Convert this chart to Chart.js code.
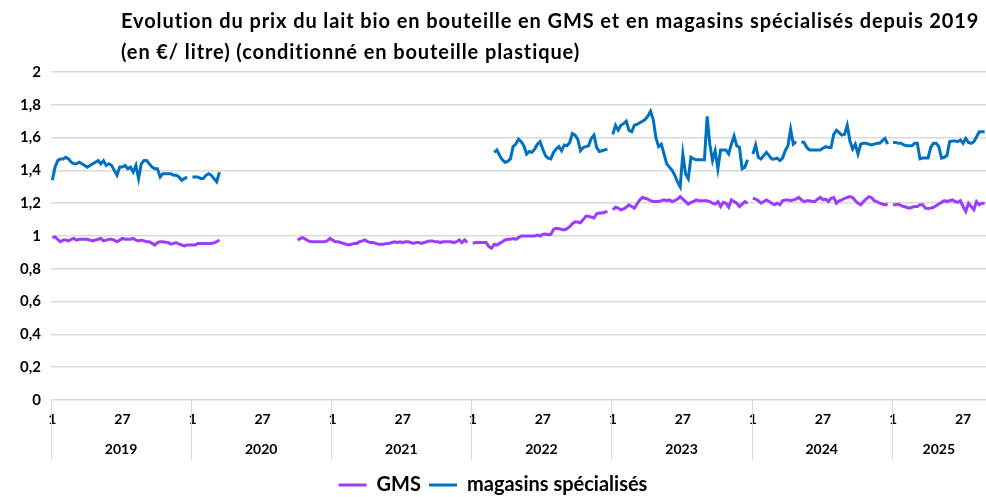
<!DOCTYPE html>
<html>
<head>
<meta charset="utf-8">
<script src="https://cdn.jsdelivr.net/npm/chart.js@4.4.0/dist/chart.umd.min.js"></script>
<style>
  html, body { margin: 0; padding: 0; background: #fff; }
  #wrap { position: relative; width: 986px; height: 497px; overflow: hidden; }
  #titre {
    position: absolute; left: 121px; top: 5px;
    font-family: Lato, "Liberation Sans", sans-serif; font-weight: bold;
    font-size: 20px; letter-spacing: 0.9px; line-height: 31px; color: #000; white-space: nowrap;
  }
</style>
</head>
<body>
<div id="wrap">
  <canvas id="chartLait" width="986" height="497"></canvas>
  <div id="titre">Evolution du prix du lait bio en bouteille en GMS et en magasins spécialisés depuis 2019<br>(en €/ litre) (conditionné en bouteille plastique)</div>
</div>
<script>
// années et semaines affichées sur l'axe
const years = ['2019', '2020', '2021', '2022', '2023', '2024', '2025'];
const weeksPerYear = [52, 52, 52, 52, 52, 52, 35];
const weekTicks = [1, 27];
const yTicks = [0, 0.2, 0.4, 0.6, 0.8, 1, 1.2, 1.4, 1.6, 1.8, 2];

const gaps = n => Array(n).fill(null);

// GMS (€/l), une valeur par semaine
const gms2019 = [0.99, 0.995, 0.98, 0.965, 0.975, 0.975, 0.97, 0.98, 0.985, 0.975, 0.98, 0.98, 0.98, 0.98, 0.975, 0.97, 0.976, 0.98, 0.985, 0.97, 0.975, 0.98, 0.98, 0.975, 0.965, 0.975, 0.985, 0.98, 0.98, 0.98, 0.985, 0.975, 0.97, 0.975, 0.97, 0.965, 0.965, 0.955, 0.945, 0.96, 0.965, 0.965, 0.962, 0.96, 0.95, 0.955, 0.96, 0.95, 0.945, 0.94, 0.945, 0.945];
const gms2020 = [0.945, 0.945, 0.955, 0.955, 0.955, 0.955, 0.955, 0.955, 0.958, 0.965, 0.976, ...gaps(28), 0.975, 0.985, 0.99, 0.98, 0.97, 0.965, 0.965, 0.965, 0.965, 0.965, 0.965, 0.97, 0.985];
const gms2021 = [0.975, 0.965, 0.965, 0.96, 0.955, 0.95, 0.945, 0.95, 0.955, 0.955, 0.965, 0.97, 0.976, 0.965, 0.96, 0.96, 0.955, 0.95, 0.95, 0.95, 0.955, 0.955, 0.96, 0.965, 0.96, 0.965, 0.96, 0.965, 0.965, 0.96, 0.955, 0.96, 0.96, 0.955, 0.96, 0.965, 0.97, 0.97, 0.965, 0.965, 0.96, 0.965, 0.965, 0.965, 0.965, 0.96, 0.965, 0.976, 0.96, 0.976, 0.96, null];
const gms2022 = [0.955, 0.96, 0.96, 0.96, 0.96, 0.96, 0.935, 0.925, 0.95, 0.945, 0.955, 0.965, 0.976, 0.98, 0.98, 0.985, 0.98, 0.99, 1.0, 1.0, 1.0, 1.0, 1.0, 1.0, 1.006, 1.0, 1.01, 1.012, 1.008, 1.01, 1.04, 1.047, 1.045, 1.04, 1.037, 1.045, 1.057, 1.075, 1.087, 1.085, 1.081, 1.10, 1.12, 1.12, 1.115, 1.11, 1.135, 1.14, 1.14, 1.145, 1.15, null];
const gms2023 = [1.16, 1.175, 1.17, 1.16, 1.165, 1.175, 1.19, 1.18, 1.17, 1.195, 1.22, 1.235, 1.23, 1.225, 1.215, 1.21, 1.21, 1.21, 1.215, 1.22, 1.215, 1.22, 1.21, 1.215, 1.225, 1.24, 1.225, 1.21, 1.195, 1.205, 1.21, 1.22, 1.215, 1.215, 1.215, 1.215, 1.21, 1.20, 1.195, 1.21, 1.18, 1.205, 1.20, 1.175, 1.22, 1.21, 1.20, 1.18, 1.195, 1.21, 1.20, null];
const gms2024 = [1.23, 1.225, 1.215, 1.20, 1.21, 1.22, 1.21, 1.20, 1.19, 1.20, 1.19, 1.215, 1.22, 1.22, 1.215, 1.22, 1.225, 1.235, 1.22, 1.21, 1.215, 1.215, 1.21, 1.21, 1.225, 1.235, 1.22, 1.225, 1.21, 1.23, 1.235, 1.20, 1.215, 1.22, 1.23, 1.235, 1.24, 1.235, 1.215, 1.20, 1.19, 1.21, 1.225, 1.24, 1.235, 1.215, 1.21, 1.20, 1.195, 1.19, 1.195, null];
const gms2025 = [1.19, 1.19, 1.195, 1.185, 1.18, 1.175, 1.17, 1.175, 1.18, 1.18, 1.19, 1.19, 1.17, 1.168, 1.17, 1.175, 1.185, 1.195, 1.205, 1.215, 1.21, 1.215, 1.22, 1.21, 1.205, 1.215, 1.18, 1.15, 1.20, 1.18, 1.16, 1.21, 1.19, 1.20, 1.20];

// magasins spécialisés (€/l)
const mag2019 = [1.34, 1.42, 1.46, 1.47, 1.47, 1.48, 1.47, 1.45, 1.44, 1.44, 1.45, 1.44, 1.43, 1.42, 1.43, 1.44, 1.45, 1.46, 1.44, 1.46, 1.43, 1.44, 1.43, 1.40, 1.37, 1.42, 1.42, 1.43, 1.41, 1.42, 1.39, 1.43, 1.35, 1.44, 1.46, 1.46, 1.44, 1.42, 1.41, 1.41, 1.36, 1.38, 1.38, 1.38, 1.38, 1.37, 1.37, 1.36, 1.34, 1.35, 1.36, null];
const mag2020 = [1.36, 1.36, 1.36, 1.35, 1.35, 1.37, 1.38, 1.37, 1.35, 1.33, 1.39, ...gaps(41)];
const mag2021 = gaps(52);
const mag2022 = [...gaps(8), 1.51, 1.525, 1.49, 1.465, 1.45, 1.455, 1.47, 1.545, 1.56, 1.59, 1.575, 1.55, 1.50, 1.515, 1.51, 1.53, 1.56, 1.575, 1.53, 1.49, 1.475, 1.47, 1.51, 1.53, 1.545, 1.52, 1.555, 1.55, 1.57, 1.625, 1.615, 1.59, 1.52, 1.54, 1.545, 1.55, 1.595, 1.615, 1.54, 1.515, 1.52, 1.525, 1.53, null];
const mag2023 = [1.62, 1.675, 1.645, 1.675, 1.685, 1.70, 1.645, 1.635, 1.675, 1.68, 1.69, 1.70, 1.71, 1.73, 1.76, 1.71, 1.60, 1.545, 1.56, 1.50, 1.44, 1.42, 1.40, 1.37, 1.33, 1.30, 1.50, 1.38, 1.35, 1.48, 1.47, 1.465, 1.465, 1.465, 1.465, 1.73, 1.56, 1.46, 1.52, 1.41, 1.525, 1.525, 1.525, 1.50, 1.56, 1.61, 1.55, 1.54, 1.41, 1.42, 1.465, null];
const mag2024 = [1.50, 1.555, 1.48, 1.47, 1.49, 1.51, 1.49, 1.47, 1.47, 1.475, 1.46, 1.475, 1.52, 1.55, 1.65, 1.56, 1.575, null, 1.575, 1.57, 1.54, 1.525, 1.525, 1.525, 1.525, 1.525, 1.535, 1.545, 1.54, 1.54, 1.62, 1.645, 1.63, 1.615, 1.62, 1.675, 1.58, 1.53, 1.56, 1.50, 1.56, 1.565, 1.565, 1.56, 1.555, 1.56, 1.565, 1.565, 1.58, 1.595, 1.56, null];
const mag2025 = [1.57, 1.57, 1.565, 1.565, 1.555, 1.55, 1.55, 1.55, 1.565, 1.565, 1.47, 1.475, 1.475, 1.475, 1.54, 1.565, 1.565, 1.545, 1.475, 1.48, 1.49, 1.575, 1.58, 1.58, 1.575, 1.585, 1.565, 1.595, 1.57, 1.565, 1.575, 1.605, 1.635, 1.635, 1.635];

const gms = [].concat(gms2019, gms2020, gms2021, gms2022, gms2023, gms2024, gms2025);
const magasins = [].concat(mag2019, mag2020, mag2021, mag2022, mag2023, mag2024, mag2025);

// début de chaque année sur l'axe (en semaines)
const yearStart = [];
let acc = 0;
weeksPerYear.forEach(n => { yearStart.push(acc); acc += n; });
const totalWeeks = acc;

const toPoints = arr => arr.map((v, i) => ({ x: i + 0.5, y: v }));

const fontName = 'Lato, "Liberation Sans", sans-serif';
const grille = '#d9d9d9';

// traits verticaux entre les années sous l'axe
const separateurs = {
  id: 'separateurs',
  afterDraw(chart) {
    const { ctx, chartArea } = chart;
    const x = chart.scales.x;
    const x2 = chart.scales.x2;
    ctx.save();
    ctx.strokeStyle = grille;
    ctx.lineWidth = 1;
    yearStart.forEach(s => {
      const px = Math.round(x.getPixelForValue(s)) + 0.5;
      ctx.beginPath();
      ctx.moveTo(px, chartArea.bottom);
      ctx.lineTo(px, x2.bottom - 7);
      ctx.stroke();
    });
    ctx.restore();
  }
};

new Chart(document.getElementById('chartLait'), {
  type: 'line',
  data: {
    datasets: [
      {
        label: 'GMS',
        data: toPoints(gms),
        borderColor: '#9b3cff',
        backgroundColor: '#9b3cff',
        borderWidth: 3,
        pointRadius: 0,
        tension: 0,
        spanGaps: false,
      },
      {
        label: 'magasins spécialisés',
        data: toPoints(magasins),
        borderColor: '#0070c0',
        backgroundColor: '#0070c0',
        borderWidth: 3,
        pointRadius: 0,
        tension: 0,
        spanGaps: false,
      },
    ],
  },
  options: {
    responsive: false,
    animation: false,
    layout: { padding: { top: 72, right: 0, left: 0, bottom: -8 } },
    plugins: {
      title: { display: false },
      tooltip: { enabled: false },
      legend: {
        position: 'bottom',
        labels: {
          usePointStyle: true,
          pointStyle: 'line',
          pointStyleWidth: 28,
          color: '#000',
          padding: 8,
          font: { family: fontName, size: 20, weight: 'bold' },
        },
      },
    },
    scales: {
      y: {
        min: 0,
        max: 2,
        afterBuildTicks: s => { s.ticks = yTicks.map(v => ({ value: v })); },
        afterFit: s => { s.width = 51; },
        ticks: {
          padding: 10,
          color: '#000',
          font: { family: fontName, size: 15, weight: 'bold' },
          callback: v => String(Number(v.toFixed(1))).replace('.', ','),
        },
        grid: { color: grille, lineWidth: 1.5, drawTicks: false },
        border: { display: false },
      },
      x: {
        type: 'linear',
        min: 0,
        max: totalWeeks,
        afterBuildTicks: s => {
          const t = [];
          yearStart.forEach((st, k) => {
            weekTicks.forEach(w => { if (w <= weeksPerYear[k]) t.push({ value: st + w - 0.5 }); });
          });
          s.ticks = t;
        },
        afterFit: s => { s.height = 30; },
        ticks: {
          autoSkip: false,
          maxRotation: 0,
          padding: 3,
          color: '#000',
          font: { family: fontName, size: 14, weight: 'bold' },
          callback: v => {
            const k = yearStart.findLastIndex(st => st <= v);
            return String(Math.round(v - 0.5 - yearStart[k]) + 1);
          },
        },
        grid: { display: false },
        border: { display: false },
      },
      x2: {
        type: 'linear',
        position: 'bottom',
        weight: 1,
        min: 0,
        max: totalWeeks,
        afterBuildTicks: s => {
          s.ticks = yearStart.map((st, k) => ({ value: st + weeksPerYear[k] / 2 }));
        },
        afterFit: s => { s.height = 37; },
        ticks: {
          autoSkip: false,
          maxRotation: 0,
          padding: 3,
          color: '#000',
          font: { family: fontName, size: 14, weight: 'bold' },
          callback: v => {
            const k = yearStart.findLastIndex(st => st <= v);
            return years[k];
          },
        },
        grid: { display: false },
        border: { display: false },
      },
    },
  },
  plugins: [separateurs],
});
</script>
</body>
</html>
